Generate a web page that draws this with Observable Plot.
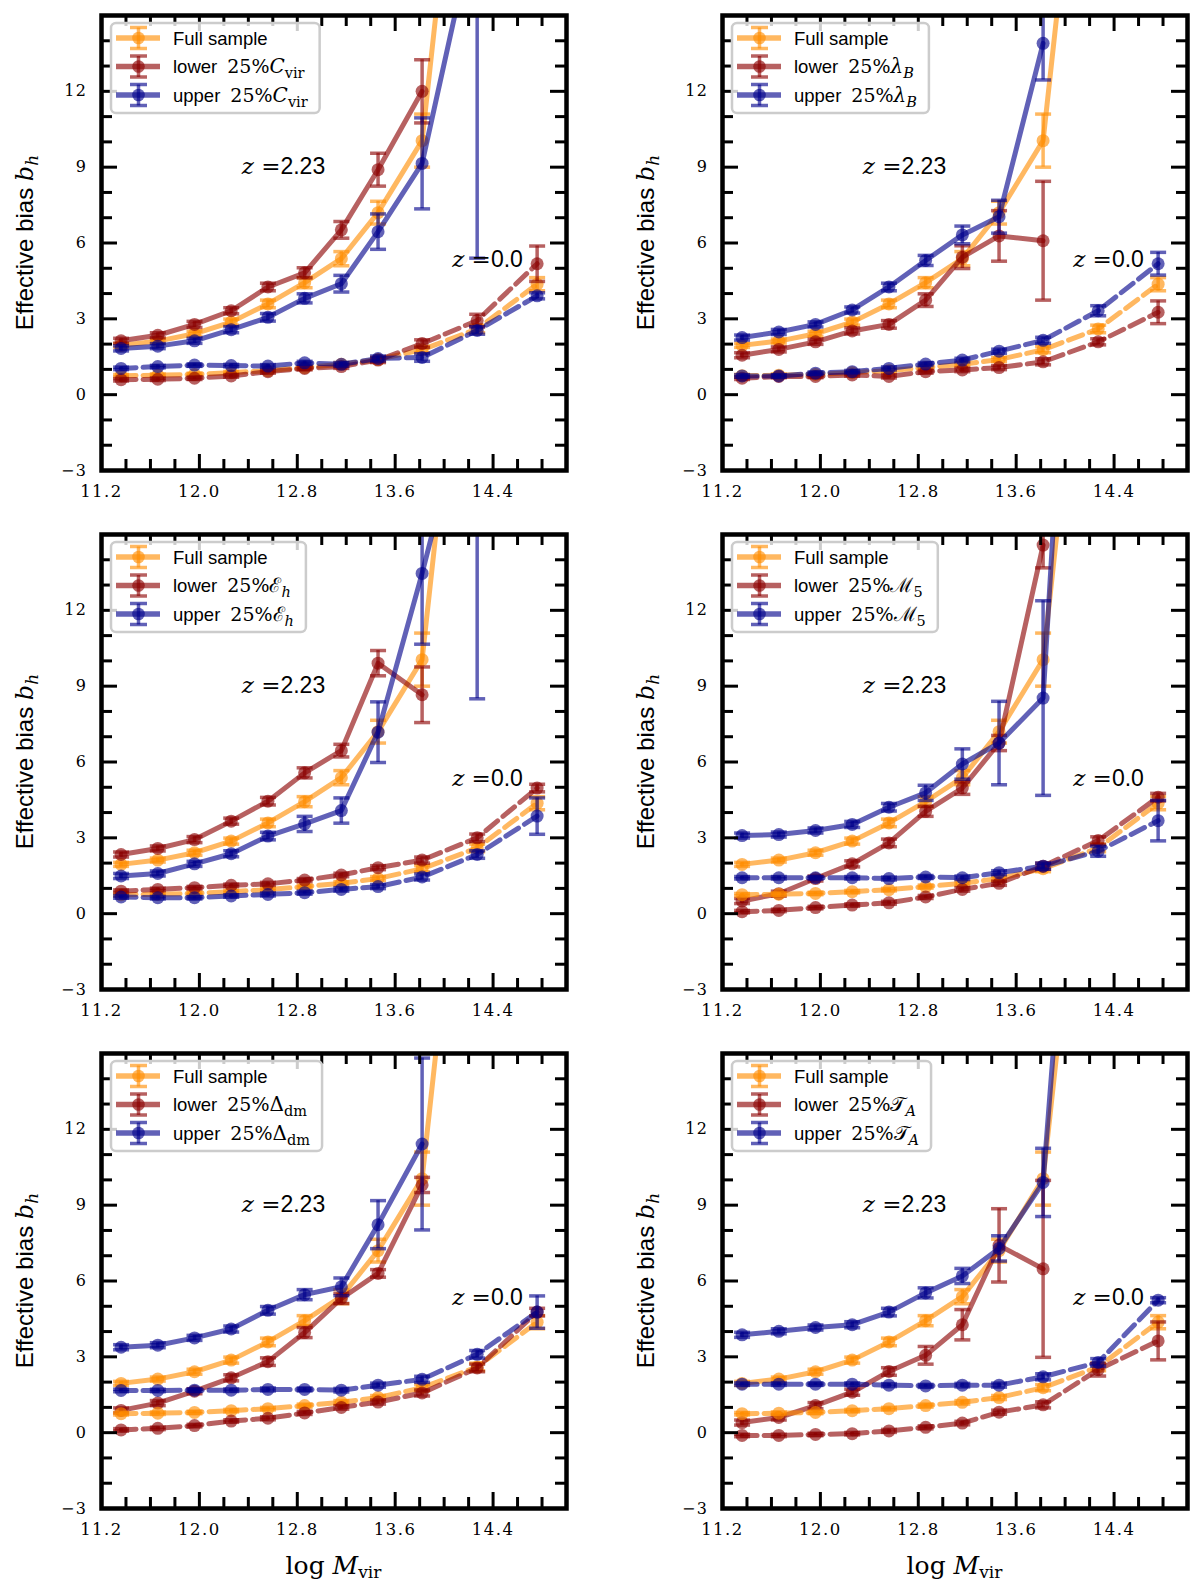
<!DOCTYPE html>
<html>
<head>
<meta charset="utf-8">
<script src="https://cdn.jsdelivr.net/npm/d3@7"></script>
<script src="https://cdn.jsdelivr.net/npm/@observablehq/plot@0.6"></script>
<style>
  body { margin: 0; background: #fff; }
  #fig { position: relative; width: 1200px; height: 1590px; overflow: hidden; }
  .panel { position: absolute; }
  text { white-space: pre; }
</style>
</head>
<body>
<div id="fig"></div>
<script>
// mass bin centres (log Mvir)
const massBins = [11.36, 11.66, 11.96, 12.26, 12.56, 12.86, 13.16, 13.46, 13.82, 14.27, 14.76]

// tick positions
const xTickLabels = [11.2, 12.0, 12.8, 13.6, 14.4]
const xMinorTicks = d3.range(57, 75).map(k => k / 5)
const yTickLabels = [-3, 0, 3, 6, 9, 12]
const yMinorTicks = d3.range(-2, 15)

// full sample (same in every panel)
const fullZ2 = [1.95, 2.12, 2.41, 2.87, 3.59, 4.43, 5.38, 7.2, 10.05, 30]
const fullZ2Err = [0.08, 0.08, 0.1, 0.12, 0.15, 0.2, 0.28, 0.45, 1.05, 3]
const fullZ0 = [0.75, 0.77, 0.8, 0.87, 0.95, 1.07, 1.2, 1.39, 1.78, 2.6, 4.37]
const fullZ0Err = [0.05, 0.05, 0.05, 0.05, 0.05, 0.06, 0.07, 0.08, 0.12, 0.15, 0.26]

// C_vir
const cvirLowerZ2 = [2.13, 2.35, 2.78, 3.32, 4.26, 4.82, 6.52, 8.9, 12.0]
const cvirLowerZ2Err = [0.1, 0.1, 0.12, 0.12, 0.15, 0.2, 0.33, 0.65, 1.25]
const cvirUpperZ2 = [1.83, 1.92, 2.13, 2.57, 3.06, 3.81, 4.39, 6.45, 9.15, 19]
const cvirUpperZ2Err = [0.1, 0.1, 0.1, 0.12, 0.15, 0.18, 0.33, 0.7, 1.8, 13.6]
const cvirLowerZ0 = [0.59, 0.61, 0.65, 0.74, 0.91, 1.04, 1.11, 1.37, 2.02, 2.93, 5.18]
const cvirLowerZ0Err = [0.05, 0.05, 0.05, 0.05, 0.06, 0.06, 0.07, 0.1, 0.15, 0.25, 0.7]
const cvirUpperZ0 = [1.04, 1.11, 1.17, 1.15, 1.13, 1.26, 1.2, 1.43, 1.47, 2.54, 3.91]
const cvirUpperZ0Err = [0.05, 0.05, 0.05, 0.05, 0.06, 0.06, 0.07, 0.1, 0.15, 0.15, 0.12]

// lambda_B
const lamLowerZ2 = [1.56, 1.79, 2.09, 2.52, 2.78, 3.74, 5.44, 6.28, 6.09]
const lamLowerZ2Err = [0.1, 0.1, 0.1, 0.12, 0.15, 0.25, 0.45, 1.0, 2.35]
const lamUpperZ2 = [2.26, 2.48, 2.78, 3.35, 4.26, 5.31, 6.32, 7.04, 13.9]
const lamUpperZ2Err = [0.1, 0.1, 0.1, 0.12, 0.15, 0.2, 0.35, 0.65, 1.45]
const lamLowerZ0 = [0.65, 0.72, 0.72, 0.78, 0.72, 0.91, 0.98, 1.07, 1.3, 2.09, 3.26]
const lamLowerZ0Err = [0.05, 0.05, 0.05, 0.05, 0.06, 0.06, 0.07, 0.08, 0.12, 0.12, 0.45]
const lamUpperZ0 = [0.74, 0.74, 0.85, 0.91, 1.04, 1.21, 1.37, 1.72, 2.15, 3.32, 5.18]
const lamUpperZ0Err = [0.05, 0.05, 0.05, 0.05, 0.06, 0.06, 0.07, 0.08, 0.12, 0.2, 0.45]

// E_h
const ehLowerZ2 = [2.34, 2.58, 2.93, 3.66, 4.45, 5.57, 6.45, 9.91, 8.66]
const ehLowerZ2Err = [0.1, 0.1, 0.12, 0.12, 0.15, 0.2, 0.25, 0.5, 1.1]
const ehUpperZ2 = [1.49, 1.59, 1.97, 2.37, 3.07, 3.55, 4.08, 7.18, 13.46, 22]
const ehUpperZ2Err = [0.1, 0.1, 0.1, 0.12, 0.15, 0.3, 0.5, 1.2, 2.8, 13.5]
const ehLowerZ0 = [0.89, 0.96, 1.03, 1.12, 1.18, 1.33, 1.53, 1.82, 2.12, 3.0, 4.97]
const ehLowerZ0Err = [0.05, 0.05, 0.05, 0.05, 0.06, 0.06, 0.07, 0.08, 0.12, 0.15, 0.15]
const ehUpperZ0 = [0.66, 0.63, 0.63, 0.7, 0.76, 0.83, 0.96, 1.07, 1.45, 2.34, 3.86]
const ehUpperZ0Err = [0.05, 0.05, 0.05, 0.05, 0.06, 0.06, 0.07, 0.08, 0.12, 0.15, 0.72]

// M_5
const m5LowerZ2 = [0.5, 0.79, 1.39, 1.97, 2.8, 4.05, 4.97, 6.75, 14.58]
const m5LowerZ2Err = [0.1, 0.1, 0.1, 0.12, 0.15, 0.2, 0.25, 0.3, 0.9]
const m5UpperZ2 = [3.09, 3.13, 3.29, 3.53, 4.21, 4.78, 5.92, 6.75, 8.53, 45]
const m5UpperZ2Err = [0.1, 0.1, 0.1, 0.12, 0.15, 0.3, 0.6, 1.65, 3.85, 5]
const m5LowerZ0 = [0.08, 0.13, 0.24, 0.34, 0.43, 0.66, 0.96, 1.2, 1.88, 2.89, 4.61]
const m5LowerZ0Err = [0.05, 0.05, 0.05, 0.05, 0.06, 0.06, 0.07, 0.08, 0.12, 0.15, 0.15]
const m5UpperZ0 = [1.42, 1.42, 1.42, 1.42, 1.39, 1.45, 1.42, 1.62, 1.88, 2.47, 3.68]
const m5UpperZ0Err = [0.05, 0.05, 0.05, 0.05, 0.06, 0.06, 0.07, 0.08, 0.12, 0.2, 0.8]

// Delta_dm
const dmLowerZ2 = [0.88, 1.17, 1.64, 2.17, 2.81, 3.96, 5.31, 6.3, 9.8]
const dmLowerZ2Err = [0.1, 0.1, 0.1, 0.12, 0.15, 0.2, 0.2, 0.15, 0.3]
const dmUpperZ2 = [3.38, 3.46, 3.75, 4.1, 4.84, 5.46, 5.77, 8.23, 11.42]
const dmUpperZ2Err = [0.1, 0.1, 0.1, 0.12, 0.15, 0.2, 0.35, 0.95, 3.4]
const dmLowerZ0 = [0.11, 0.17, 0.28, 0.46, 0.57, 0.78, 1.0, 1.21, 1.57, 2.56, 4.77]
const dmLowerZ0Err = [0.05, 0.05, 0.05, 0.05, 0.06, 0.06, 0.07, 0.08, 0.12, 0.15, 0.15]
const dmUpperZ0 = [1.67, 1.67, 1.68, 1.68, 1.71, 1.71, 1.68, 1.88, 2.11, 3.1, 4.77]
const dmUpperZ0Err = [0.05, 0.05, 0.05, 0.05, 0.06, 0.06, 0.07, 0.08, 0.12, 0.15, 0.64]

// T_A
const taLowerZ2 = [0.4, 0.6, 1.07, 1.6, 2.42, 3.06, 4.27, 7.41, 6.48]
const taLowerZ2Err = [0.1, 0.1, 0.12, 0.12, 0.15, 0.35, 0.6, 1.45, 3.5]
const taUpperZ2 = [3.87, 4.01, 4.16, 4.27, 4.77, 5.53, 6.2, 7.29, 9.9, 38]
const taUpperZ2Err = [0.1, 0.1, 0.1, 0.12, 0.15, 0.2, 0.3, 0.5, 1.35, 4]
const taLowerZ0 = [-0.11, -0.11, -0.07, -0.04, 0.07, 0.21, 0.38, 0.81, 1.1, 2.49, 3.63]
const taLowerZ0Err = [0.05, 0.05, 0.05, 0.05, 0.06, 0.06, 0.07, 0.08, 0.12, 0.25, 0.75]
const taUpperZ0 = [1.92, 1.92, 1.92, 1.92, 1.88, 1.85, 1.88, 1.88, 2.21, 2.78, 5.24]
const taUpperZ0Err = [0.05, 0.05, 0.05, 0.05, 0.06, 0.06, 0.07, 0.08, 0.12, 0.15, 0.1]

// property symbols used in the legends
const propSymbols = ["C", "λ", "ℰ", "ℳ", "Δ", "𝒯"]
const propSymbolStyle = ["italic", "italic", "normal", "normal", "normal", "normal"]
const propSubs = ["vir", "B", "h", "5", "dm", "A"]
const propSubStyle = ["normal", "italic", "italic", "normal", "normal", "italic"]

const panels = [
  [cvirLowerZ2, cvirLowerZ2Err, cvirUpperZ2, cvirUpperZ2Err, cvirLowerZ0, cvirLowerZ0Err, cvirUpperZ0, cvirUpperZ0Err],
  [lamLowerZ2, lamLowerZ2Err, lamUpperZ2, lamUpperZ2Err, lamLowerZ0, lamLowerZ0Err, lamUpperZ0, lamUpperZ0Err],
  [ehLowerZ2, ehLowerZ2Err, ehUpperZ2, ehUpperZ2Err, ehLowerZ0, ehLowerZ0Err, ehUpperZ0, ehUpperZ0Err],
  [m5LowerZ2, m5LowerZ2Err, m5UpperZ2, m5UpperZ2Err, m5LowerZ0, m5LowerZ0Err, m5UpperZ0, m5UpperZ0Err],
  [dmLowerZ2, dmLowerZ2Err, dmUpperZ2, dmUpperZ2Err, dmLowerZ0, dmLowerZ0Err, dmUpperZ0, dmUpperZ0Err],
  [taLowerZ2, taLowerZ2Err, taUpperZ2, taUpperZ2Err, taLowerZ0, taLowerZ0Err, taUpperZ0, taUpperZ0Err]
]

const orange = "#ff8c00", red = "#8b0000", blue = "#00008b"
const serif = "'DejaVu Serif', serif"
const sans = "'Liberation Sans', Arial, sans-serif"
const alpha = 0.62

// horizontal cap for the error bars
const cap = {draw(ctx, size) { const w = Math.sqrt(size / Math.PI); ctx.moveTo(-w, 0); ctx.lineTo(w, 0) }}

const panelW = 579, padL = 101, frameW = 465, padT = 15, frameH = 455
const fig = d3.select("#fig")

panels.forEach((p, i) => {
  const row = Math.floor(i / 2), col = i % 2
  const panelH = row === 2 ? 552 : 520

  const series = [
    {color: orange, ys: fullZ2, es: fullZ2Err, dash: null},
    {color: red, ys: p[0], es: p[1], dash: null},
    {color: blue, ys: p[2], es: p[3], dash: null},
    {color: orange, ys: fullZ0, es: fullZ0Err, dash: "15,7"},
    {color: red, ys: p[4], es: p[5], dash: "15,7"},
    {color: blue, ys: p[6], es: p[7], dash: "15,7"}
  ]

  const marks = []
  series.forEach(s => {
    const rows = s.ys.map((y, j) => ({x: massBins[j], y, e: s.es[j]}))
    marks.push(
      Plot.line(rows, {x: "x", y: "y", stroke: s.color, strokeWidth: 5, strokeOpacity: alpha, strokeDasharray: s.dash, clip: true}),
      Plot.ruleX(rows, {x: "x", y1: d => d.y - d.e, y2: d => d.y + d.e, stroke: s.color, strokeWidth: 3.5, strokeOpacity: alpha, clip: true}),
      Plot.dot(rows, {x: "x", y: d => d.y + d.e, symbol: cap, r: 8, fill: "none", stroke: s.color, strokeWidth: 3.5, strokeOpacity: alpha, clip: true}),
      Plot.dot(rows, {x: "x", y: d => d.y - d.e, symbol: cap, r: 8, fill: "none", stroke: s.color, strokeWidth: 3.5, strokeOpacity: alpha, clip: true}),
      Plot.dot(rows, {x: "x", y: "y", r: 6.5, fill: s.color, fillOpacity: alpha, stroke: "none", clip: true})
    )
  })

  const xMajor = xMinorTicks.filter(v => xTickLabels.some(t => Math.abs(t - v) < 1e-6))
  const xMinor = xMinorTicks.filter(v => !xMajor.includes(v))
  const yMajor = yMinorTicks.filter(v => v % 3 === 0)
  const yMinor = yMinorTicks.filter(v => v % 3 !== 0)
  const tick = {stroke: "black", strokeWidth: 3}

  const chart = Plot.plot({
    width: panelW,
    height: panelH,
    marginLeft: padL,
    marginRight: panelW - padL - frameW,
    marginTop: padT,
    marginBottom: panelH - padT - frameH,
    x: {domain: [11.2, 15.0]},
    y: {domain: [-3, 15]},
    style: {background: "white", color: "black"},
    marks: [
      ...marks,
      Plot.tickX(xMinor, {x: d => d, insetTop: frameH - 11, ...tick}),
      Plot.tickX(xMinor, {x: d => d, insetBottom: frameH - 11, ...tick}),
      Plot.tickX(xMajor, {x: d => d, insetTop: frameH - 16, ...tick}),
      Plot.tickX(xMajor, {x: d => d, insetBottom: frameH - 16, ...tick}),
      Plot.tickY(yMinor, {y: d => d, insetRight: frameW - 11, ...tick}),
      Plot.tickY(yMinor, {y: d => d, insetLeft: frameW - 11, ...tick}),
      Plot.tickY(yMajor, {y: d => d, insetRight: frameW - 16, ...tick}),
      Plot.tickY(yMajor, {y: d => d, insetLeft: frameW - 16, ...tick}),
      Plot.frame({stroke: "black", strokeWidth: 4.5}),
      Plot.axisX({ticks: xTickLabels, tickSize: 0, tickPadding: 15, tickFormat: d3.format(".1f"), label: null, fontSize: 16.5, fontFamily: serif}),
      Plot.axisY({ticks: yTickLabels, tickSize: 0, tickPadding: 14, label: null, fontSize: 16, fontFamily: serif})
    ]
  })

  const holder = fig.append("div").attr("class", "panel")
    .style("left", (col * 621) + "px").style("top", (row * 519) + "px")
  holder.node().appendChild(chart)

  const svg = d3.select(chart)
  svg.selectAll("g[aria-label='x-axis tick label'] text").style("letter-spacing", "1.5px")
  svg.selectAll("g[aria-label='y-axis tick label'] text").style("letter-spacing", "1.5px")
  const sx = chart.scale("x"), sy = chart.scale("y")

  // redshift annotations
  const z2 = svg.append("text").attr("x", sx.apply(12.35)).attr("y", sy.apply(8.7))
    .attr("font-size", 23).attr("text-anchor", "start")
  z2.append("tspan").attr("font-family", serif).attr("font-style", "italic").text("z")
  z2.append("tspan").attr("font-family", serif).text(" =")
  z2.append("tspan").attr("font-family", sans).text("2.23")
  const z0 = svg.append("text").attr("x", sx.apply(14.07)).attr("y", sy.apply(5.05))
    .attr("font-size", 23).attr("text-anchor", "start")
  z0.append("tspan").attr("font-family", serif).attr("font-style", "italic").text("z")
  z0.append("tspan").attr("font-family", serif).text(" =")
  z0.append("tspan").attr("font-family", sans).text("0.0")

  // y label
  const yl = svg.append("text").attr("transform", `translate(33,${padT + frameH / 2}) rotate(-90)`)
    .attr("text-anchor", "middle").attr("font-size", 24)
  yl.append("tspan").attr("font-family", sans).text("Effective bias ")
  yl.append("tspan").attr("font-family", serif).attr("font-style", "italic").text("b")
  yl.append("tspan").attr("font-family", serif).attr("font-style", "italic").attr("font-size", 17).attr("dy", 5).text("h")

  // x label on bottom row
  if (row === 2) {
    const xl = svg.append("text").attr("x", padL + frameW / 2).attr("y", padT + frameH + 66)
      .attr("text-anchor", "middle").attr("font-size", 25).attr("font-family", serif)
    xl.append("tspan").text("log ")
    xl.append("tspan").attr("font-style", "italic").text("M")
    xl.append("tspan").attr("font-size", 17).attr("dy", 4).text("vir")
  }

  // legend
  const lg = svg.append("g").attr("transform", `translate(${padL},${padT})`).attr("text-anchor", "start")
  const box = lg.append("rect").attr("x", 10).attr("y", 8).attr("height", 90).attr("rx", 5)
    .attr("fill", "white").attr("fill-opacity", 0.8).attr("stroke", "#cccccc").attr("stroke-width", 2.5)
  const entries = [[orange, "Full sample", false], [red, "lower", true], [blue, "upper", true]]
  let maxEnd = 0
  entries.forEach(([color, word, withProp], k) => {
    const cy = 23 + k * 28.5
    lg.append("line").attr("x1", 15).attr("x2", 59).attr("y1", cy).attr("y2", cy)
      .attr("stroke", color).attr("stroke-width", 5.5).attr("stroke-opacity", alpha)
    lg.append("line").attr("x1", 37.5).attr("x2", 37.5).attr("y1", cy - 10.5).attr("y2", cy + 10.5)
      .attr("stroke", color).attr("stroke-width", 3.5).attr("stroke-opacity", alpha)
    for (const dy of [-10.5, 10.5]) {
      lg.append("line").attr("x1", 29).attr("x2", 46).attr("y1", cy + dy).attr("y2", cy + dy)
        .attr("stroke", color).attr("stroke-width", 3.5).attr("stroke-opacity", alpha)
    }
    lg.append("circle").attr("cx", 37.5).attr("cy", cy).attr("r", 6.3).attr("fill", color).attr("fill-opacity", alpha)
    const t = lg.append("text").attr("x", 72).attr("y", cy + 6.5).attr("font-size", 18.5).attr("text-anchor", "start")
    t.append("tspan").attr("font-family", sans).text(word)
    if (withProp) {
      t.append("tspan").attr("font-family", serif).attr("font-size", 19).attr("dx", 10).text("25%")
      t.append("tspan").attr("font-family", serif).attr("font-size", 20).attr("font-style", propSymbolStyle[i]).text(propSymbols[i])
      t.append("tspan").attr("font-family", serif).attr("font-size", 14.5).attr("font-style", propSubStyle[i]).attr("dy", 5).text(propSubs[i])
    }
    maxEnd = Math.max(maxEnd, 72 + t.node().getComputedTextLength() + (withProp ? 10 : 0))
  })
  box.attr("width", maxEnd + 12 - 10)
})
</script>
</body>
</html>
